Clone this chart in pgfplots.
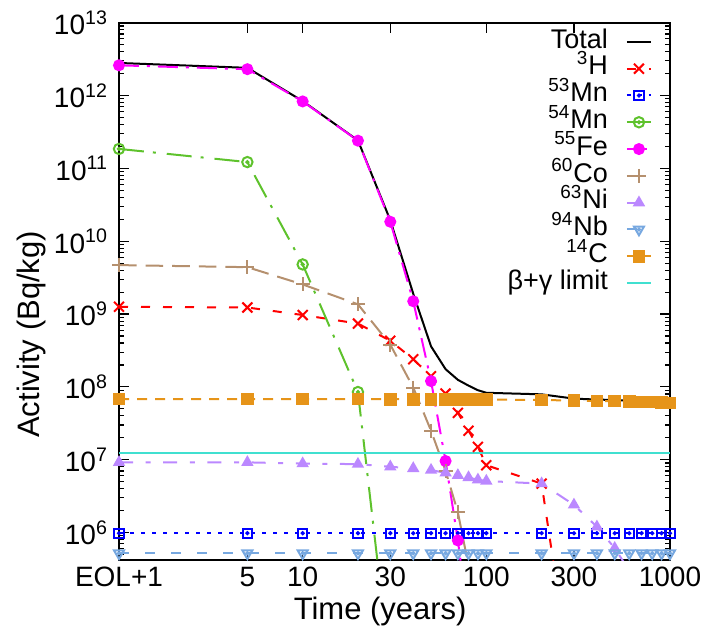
\documentclass[border=0pt]{standalone}
\usepackage{fontspec}
\setmainfont{Liberation Sans}
\usepackage{pgfplots}
\pgfplotsset{compat=1.18}

\definecolor{cH}{HTML}{FF0000}
\definecolor{cMnA}{HTML}{0000FF}
\definecolor{cMnB}{HTML}{5EC22C}
\definecolor{cFe}{HTML}{FF00FF}
\definecolor{cCo}{HTML}{B5906E}
\definecolor{cNi}{HTML}{BB88FF}
\definecolor{cNb}{HTML}{77A8E0}
\definecolor{cC}{HTML}{E69419}
\definecolor{cLim}{HTML}{40E0D0}

% open marks with a dot in the middle, as gnuplot draws them
\pgfdeclareplotmark{sqdot}{%
  \pgfpathrectangle{\pgfqpoint{-\pgfplotmarksize}{-\pgfplotmarksize}}{\pgfqpoint{2\pgfplotmarksize}{2\pgfplotmarksize}}%
  \pgfusepathqstroke
  \pgfpathcircle{\pgfpointorigin}{0.5pt}\pgfusepathqfillstroke}
\pgfdeclareplotmark{cdot}{%
  \pgfpathcircle{\pgfpointorigin}{\pgfplotmarksize}\pgfusepathqstroke
  \pgfpathcircle{\pgfpointorigin}{0.5pt}\pgfusepathqfillstroke}
\pgfdeclareplotmark{tdot}{%
  \pgfpathmoveto{\pgfqpointpolar{-90}{\pgfplotmarksize}}%
  \pgfpathlineto{\pgfqpointpolar{30}{\pgfplotmarksize}}%
  \pgfpathlineto{\pgfqpointpolar{150}{\pgfplotmarksize}}%
  \pgfpathclose\pgfusepathqstroke
  \pgfpathcircle{\pgfpointorigin}{0.5pt}\pgfusepathqfillstroke}

\begin{document}
\begin{tikzpicture}
\path[use as bounding box] (-59.5pt,-36pt) rectangle (292.5pt,280pt);
\begin{axis}[
  at={(0,0)}, anchor=south west,
  width=275.5pt, height=268.65pt, scale only axis,
  xmode=log, ymode=log,
  xmin=1, xmax=1000, ymin=4.2e5, ymax=1e13,
  xtick={1,5,10,30,100,300,1000},
  xticklabels={EOL+1,5,10,30,100,300,1000},
  minor xtick={},
  ytick={1e6,1e7,1e8,1e9,1e10,1e11,1e12,1e13},
  yticklabels={10\textsuperscript{6},10\textsuperscript{7},10\textsuperscript{8},10\textsuperscript{9},
               10\textsuperscript{10},10\textsuperscript{11},10\textsuperscript{12},10\textsuperscript{13}},
  minor ytick={5e5,6e5,7e5,8e5,9e5,
    2e6,3e6,4e6,5e6,6e6,7e6,8e6,9e6, 2e7,3e7,4e7,5e7,6e7,7e7,8e7,9e7,
    2e8,3e8,4e8,5e8,6e8,7e8,8e8,9e8, 2e9,3e9,4e9,5e9,6e9,7e9,8e9,9e9,
    2e10,3e10,4e10,5e10,6e10,7e10,8e10,9e10, 2e11,3e11,4e11,5e11,6e11,7e11,8e11,9e11,
    2e12,3e12,4e12,5e12,6e12,7e12,8e12,9e12},
  tick align=inside, tick pos=both,
  major tick length=5pt, minor tick length=2.5pt,
  every tick/.style={black, line width=0.6pt},
  axis line style={line width=1pt},
  tick label style={font=\fontsize{14pt}{16pt}\selectfont},
  yticklabel style={xshift=-2pt},
  xlabel={Time (years)}, ylabel={Activity (Bq/kg)},
  label style={font=\fontsize{15.5pt}{18pt}\selectfont},
  xlabel style={at={(axis description cs:0.474,-0.095)}, anchor=center},
  ylabel style={at={(axis description cs:-0.158,0.42)}, anchor=center, rotate=0},
  legend plot pos=right, legend cell align=right,
  legend image code/.code={\draw[mark repeat=2,mark phase=2,#1] plot coordinates {(0pt,0pt) (6pt,0pt) (12pt,0pt)};},
  legend style={draw=none, fill=none, font=\fontsize{13.5pt}{15pt}\selectfont,
    at={(axis description cs:0.968,0.99)}, anchor=north east, row sep=0pt, inner sep=0pt,
    nodes={inner sep=0pt, text height=9.8pt, text depth=3.6pt},
    /tikz/every odd column/.append style={column sep=9pt}},
]
\addplot[black, line width=1pt] coordinates {
  (1,2.8e12) (5,2.4e12) (10,8.4e11) (20,2.42e11) (30,1.94e10) (40,1.9e9) (50,3.6e8)
  (60,1.75e8) (70,1.25e8) (80,1.04e8) (90,9.0e7) (100,8.3e7) (200,7.9e7) (300,6.9e7)
  (400,6.7e7) (500,6.6e7) (600,6.45e7) (700,6.35e7) (800,6.3e7) (900,6.2e7) (1000,6.15e7)};
\addlegendentry{Total}
\addplot[cH, line width=1pt, dash pattern=on 4.5pt off 6.5pt, mark=x, mark size=3.5pt, mark options={solid}] coordinates {
  (1,1.26e9) (5,1.23e9) (10,9.7e8) (20,7.4e8) (30,4.3e8) (40,2.4e8) (50,1.4e8) (60,8.1e7)
  (70,4.4e7) (80,2.5e7) (90,1.5e7) (100,8.4e6) (200,4.7e6) (300,5e3)};
\addlegendentry{\textsuperscript{3}H}
\addplot[cMnA, line width=1pt, dash pattern=on 2pt off 3.5pt, mark=sqdot, mark size=2.3pt, mark options={solid, fill=cMnA}] coordinates {
  (1,9.8e5) (5,9.8e5) (10,9.8e5) (20,9.8e5) (30,9.8e5) (40,9.8e5) (50,9.8e5) (60,9.8e5)
  (70,9.8e5) (80,9.8e5) (90,9.8e5) (100,9.8e5) (200,9.8e5) (300,9.8e5) (400,9.8e5)
  (500,9.8e5) (600,9.8e5) (700,9.8e5) (800,9.8e5) (900,9.8e5) (1000,9.8e5)};
\addlegendentry{\textsuperscript{53}Mn}
\addplot[cMnB, line width=1pt, dash pattern=on 12.5pt off 4.5pt on 1.5pt off 5.5pt, mark=cdot, mark size=2.6pt, mark options={solid, fill=cMnB}] coordinates {
  (1,1.85e11) (5,1.22e11) (10,4.8e9) (20,8.5e7) (30,1.2e4)};
\addlegendentry{\textsuperscript{54}Mn}
\addplot[cFe, line width=1pt, dash pattern=on 10pt off 4pt on 1.5pt off 4pt, mark=*, mark size=2.5pt, mark options={solid, fill=cFe}] coordinates {
  (1,2.6e12) (5,2.3e12) (10,8.3e11) (20,2.4e11) (30,1.85e10) (40,1.5e9) (50,1.2e8)
  (60,9.6e6) (70,7.8e5) (80,6e4)};
\addlegendentry{\textsuperscript{55}Fe}
\addplot[cCo, line width=1pt, dash pattern=on 8.8pt off 4.5pt, mark=+, mark size=3.5pt, mark options={solid}] coordinates {
  (1,4.7e9) (5,4.4e9) (10,2.55e9) (20,1.36e9) (30,3.8e8) (40,9.8e7) (50,2.5e7) (60,7e6)
  (70,1.9e6) (80,3.5e5) (90,1.0e5)};
\addlegendentry{\textsuperscript{60}Co}
\addplot[cNi, line width=1pt, dash pattern=on 7pt off 6.3pt on 2.5pt off 6.3pt, mark=triangle*, mark size=2.6pt, mark options={solid, fill=cNi}] coordinates {
  (1,9.2e6) (5,9.2e6) (10,8.85e6) (20,8.7e6) (30,8.0e6) (40,7.6e6) (50,7.2e6) (60,6.6e6)
  (70,6.1e6) (80,5.7e6) (90,5.3e6) (100,5.1e6) (200,4.7e6) (300,2.4e6) (400,1.2e6)
  (500,6.1e5) (600,3.0e5) (700,1.5e5)};
\addlegendentry{\textsuperscript{63}Ni}
\addplot[cNb, line width=1pt, dash pattern=on 5pt off 8pt, mark=tdot, mark size=2.9pt, mark options={solid, fill=cNb}] coordinates {
  (1,5.2e5) (5,5.2e5) (10,5.2e5) (20,5.2e5) (30,5.2e5) (40,5.2e5) (50,5.2e5) (60,5.2e5)
  (70,5.2e5) (80,5.2e5) (90,5.2e5) (100,5.2e5) (200,5.2e5) (300,5.2e5) (400,5.2e5)
  (500,5.2e5) (600,5.2e5) (700,5.2e5) (800,5.2e5) (900,5.2e5) (1000,5.2e5)};
\addlegendentry{\textsuperscript{94}Nb}
\addplot[cC, line width=1pt, dash pattern=on 5pt off 4pt, mark=square*, mark size=2.7pt, mark options={solid, fill=cC}] coordinates {
  (1,6.8e7) (5,6.8e7) (10,6.8e7) (20,6.8e7) (30,6.77e7) (40,6.76e7) (50,6.75e7) (60,6.74e7)
  (70,6.73e7) (80,6.72e7) (90,6.71e7) (100,6.7e7) (200,6.6e7) (300,6.5e7) (400,6.4e7)
  (500,6.4e7) (600,6.3e7) (700,6.2e7) (800,6.2e7) (900,6.1e7) (1000,6.0e7)};
\addlegendentry{\textsuperscript{14}C}
\addplot[cLim, line width=1pt] coordinates {(1,1.24e7) (1000,1.24e7)};
\addlegendentry{β+γ limit}
\end{axis}
\end{tikzpicture}
\end{document}
